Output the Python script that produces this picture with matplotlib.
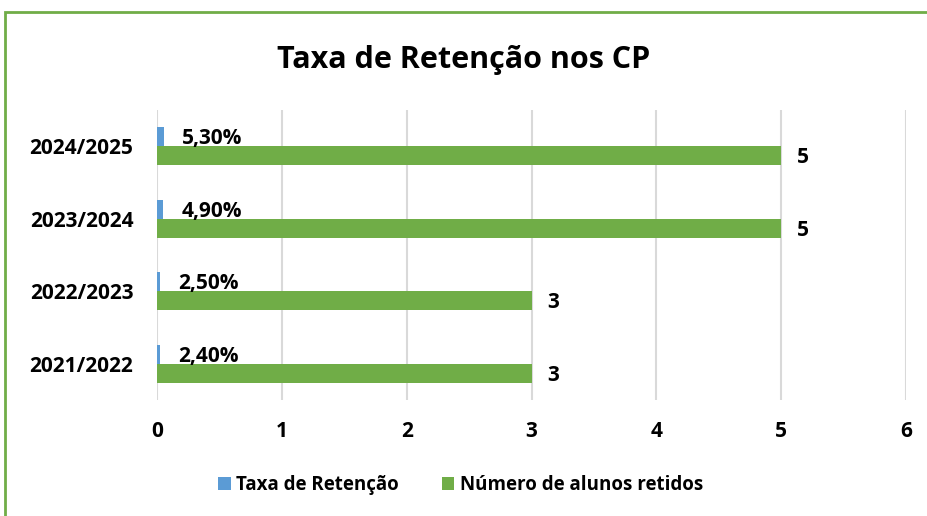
import matplotlib.pyplot as plt
from matplotlib.patches import Rectangle
import numpy as np

# Data
years = ["2021/2022", "2022/2023", "2023/2024", "2024/2025"]
taxa = [0.024, 0.025, 0.049, 0.053]
taxa_labels = ["2,40%", "2,50%", "4,90%", "5,30%"]
alunos = [3, 3, 5, 5]

blue = "#5B9BD5"
green = "#70AD47"
font = "Open Sans"

fig = plt.figure(figsize=(9.27, 5.16), dpi=100)
ax = fig.add_axes([157 / 927, 116 / 516, 749 / 927, 290 / 516])

y = np.arange(len(years))
h = 0.26
ax.barh(y + h / 2, taxa, height=h, color=blue, label="Taxa de Retenção", zorder=3)
ax.barh(y - h / 2, alunos, height=h, color=green, label="Número de alunos retidos", zorder=3)

# data labels
for yi, v, lab in zip(y, taxa, taxa_labels):
    ax.annotate(lab, (v, yi + h / 2), xytext=(13, -1.5), textcoords="offset points",
                va="center", ha="left", fontsize=15, fontweight="bold", family=font)
for yi, v in zip(y, alunos):
    ax.annotate(str(v), (v, yi - h / 2), xytext=(11, -1.5), textcoords="offset points",
                va="center", ha="left", fontsize=15, fontweight="bold", family=font)

ax.set_xlim(0, 6)
ax.set_ylim(-0.5, 3.5)
ax.set_xticks(range(7))
ax.set_yticks(y)
ax.set_yticklabels(years)
for lab in ax.get_xticklabels() + ax.get_yticklabels():
    lab.set_fontsize(15)
    lab.set_fontweight("bold")
    lab.set_family(font)
ax.tick_params(length=0)
ax.tick_params(axis="x", pad=15)
ax.tick_params(axis="y", pad=17)
ax.grid(axis="x", color="#D9D9D9", linewidth=1.5, zorder=0)
for s in ax.spines.values():
    s.set_visible(False)

fig.text(0.5, 1 - 60 / 516, "Taxa de Retenção nos CP", ha="center", va="center",
         fontsize=22, fontweight="bold", family=font)

leg = fig.legend(loc="center", bbox_to_anchor=(0.497, 1 - 485 / 516), ncol=2,
                 frameon=False, handlelength=0.65, handleheight=0.65,
                 columnspacing=2.3, handletextpad=0.3,
                 prop={"family": font, "weight": "bold", "size": 13.5})

# outer green border (cropped on right and bottom)
fig.patches.append(Rectangle((5 / 927, -0.1), 1.2, 1 - 12 / 516 + 0.1,
                             transform=fig.transFigure, fill=False,
                             edgecolor=green, linewidth=2))

fig.savefig("out.png", dpi=100)
